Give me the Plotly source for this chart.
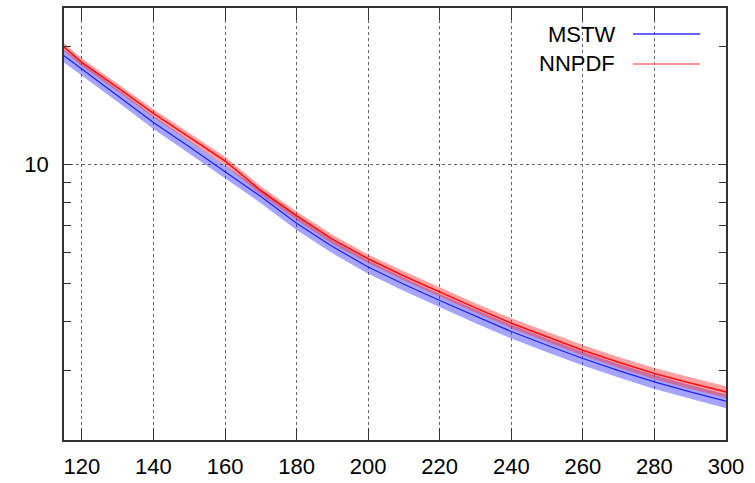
import plotly.graph_objects as go

# ---- data ----
mass = [115, 120, 130, 140, 150, 160, 170, 180, 190, 200, 210, 220, 230, 240, 250, 260, 270, 280, 290, 300]
mstw = [18.9, 17.5, 15.0, 12.8, 11.1, 9.6, 8.3, 7.1, 6.2, 5.5, 4.97, 4.52, 4.12, 3.77, 3.48, 3.22, 3.0, 2.81, 2.65, 2.51]
mstw_err = [0.038, 0.038, 0.038, 0.038, 0.038, 0.038, 0.038, 0.038, 0.039, 0.039, 0.039, 0.039, 0.040, 0.040, 0.040, 0.040, 0.040, 0.041, 0.041, 0.041]
nnpdf = [19.9, 18.2, 15.7, 13.5, 11.75, 10.22, 8.6, 7.42, 6.47, 5.77, 5.22, 4.75, 4.33, 3.96, 3.66, 3.38, 3.15, 2.95, 2.79, 2.65]
nnpdf_err = [0.023, 0.023, 0.023, 0.024, 0.024, 0.025, 0.025, 0.025, 0.026, 0.026, 0.027, 0.028, 0.028, 0.029, 0.030, 0.031, 0.032, 0.033, 0.034, 0.034]

x_ticks = [120, 140, 160, 180, 200, 220, 240, 260, 280, 300]
y_major = [10]
y_minor = [2, 3, 4, 5, 6, 7, 8, 9, 20]
legend_names = ["MSTW", "NNPDF"]

FONT = "Liberation Sans, Arial, sans-serif"

def band(x, c, e, fill, name):
    up = [v * (1 + d) for v, d in zip(c, e)]
    lo = [v * (1 - d) for v, d in zip(c, e)]
    return go.Scatter(x=x + x[::-1], y=up + lo[::-1], fill="toself", fillcolor=fill,
                      line=dict(width=0), mode="lines", hoverinfo="skip",
                      showlegend=False, name=name + " band")

fig = go.Figure()
fig.add_trace(band(mass, mstw, mstw_err, "rgba(40,40,255,0.42)", "MSTW"))
fig.add_trace(go.Scatter(x=mass, y=mstw, mode="lines", line=dict(color="#2020ff", width=1.2),
                         name="MSTW", showlegend=False))
fig.add_trace(band(mass, nnpdf, nnpdf_err, "rgba(255,30,30,0.42)", "NNPDF"))
fig.add_trace(go.Scatter(x=mass, y=nnpdf, mode="lines", line=dict(color="#ff1010", width=1.6),
                         name="NNPDF", showlegend=False))

fig.update_layout(
    width=755, height=483,
    margin=dict(l=64, r=29, t=8, b=43),
    paper_bgcolor="white", plot_bgcolor="white",
    font=dict(family=FONT, size=22, color="black"),
    showlegend=False,
    xaxis=dict(range=[115, 300], tickvals=x_ticks, ticks="inside", ticklen=12,
               tickcolor="#333", showline=True, linecolor="#333", linewidth=1.5,
               mirror="ticks", showgrid=True, gridcolor="#666", griddash="dot",
               gridwidth=1, zeroline=False, ticklabelstandoff=6, automargin=False,
               tickfont=dict(family=FONT, size=22)),
    yaxis=dict(type="log", range=[0.3010, 1.3979], tickvals=y_major,
               ticktext=[str(v) for v in y_major], ticks="inside", ticklen=8,
               tickcolor="#333", showline=True, linecolor="#333", linewidth=1.5,
               mirror="ticks", showgrid=True, gridcolor="#666", griddash="dot",
               gridwidth=1, zeroline=False, ticklabelstandoff=9, automargin=False,
               tickfont=dict(family=FONT, size=22),
               minor=dict(tickvals=y_minor, ticks="inside", ticklen=7,
                          tickcolor="#333", showgrid=False)),
)

# manual legend (gnuplot style: text right-aligned, sample line on the right)
leg_y = [0.9398, 0.8704]
leg_col = ["#3030ff", "#f07070"]
for name, yy, col in zip(legend_names, leg_y, leg_col):
    fig.add_annotation(x=0.8353, y=yy, xref="paper", yref="paper", text=name,
                       showarrow=False, xanchor="right", yanchor="middle",
                       font=dict(family=FONT, size=22, color="black"))
    fig.add_shape(type="line", xref="paper", yref="paper", x0=0.8595, x1=0.9607,
                  y0=yy, y1=yy, line=dict(color=col, width=1.5))

fig.write_html("out.html")
